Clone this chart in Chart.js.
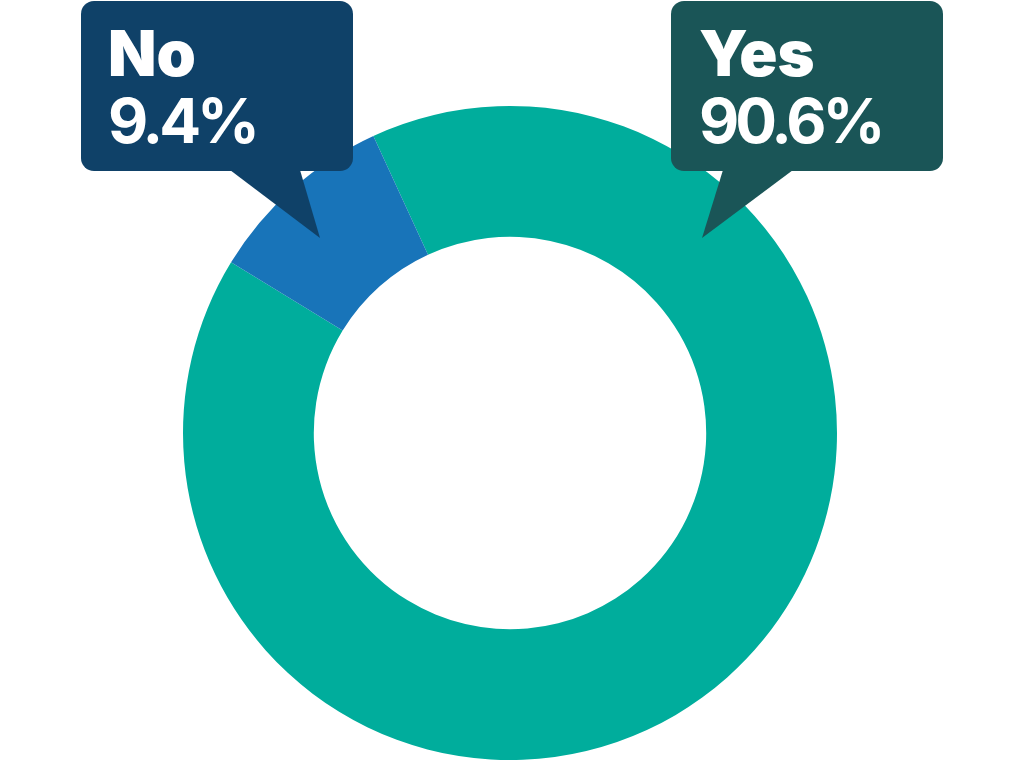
<!DOCTYPE html>
<html>
<head>
<meta charset="utf-8">
<script src="https://cdn.jsdelivr.net/npm/chart.js@4/dist/chart.umd.min.js"></script>
<style>
  html, body { margin: 0; padding: 0; background: #fff; }
  #wrap { width: 1024px; height: 768px; }
</style>
</head>
<body>
<div id="wrap"><canvas id="pieChart" width="1024" height="768"></canvas></div>
<script>
// ---- data ----
const labels = ['Yes', 'No'];
const values = [90.6, 9.4];
const sliceColors = ['#00ad9c', '#1874b9'];
const boxColors = ['#1a5557', '#0f4168'];

// ---- callout boxes (drawn on top of the doughnut) ----
const callouts = {
    Yes: { x: 671, y: 1, w: 272, h: 170, base: [723, 793], tip: [702, 238], tx: 699 },
    No:  { x: 81,  y: 1, w: 272, h: 170, base: [230, 300], tip: [320, 238], tx: 108 },
};

const calloutPlugin = {
    id: 'callouts',
    afterDraw(chart) {
        const ctx = chart.ctx;
        labels.forEach((lab, i) => {
            const c = callouts[lab];
            if (!c) return;
            ctx.save();
            ctx.fillStyle = boxColors[i];
            ctx.beginPath();
            ctx.roundRect(c.x, c.y, c.w, c.h, 13);
            ctx.fill();
            ctx.beginPath();
            ctx.moveTo(c.base[0], c.y + c.h - 1);
            ctx.lineTo(c.base[1], c.y + c.h - 1);
            ctx.lineTo(c.tip[0], c.tip[1]);
            ctx.closePath();
            ctx.fill();
            ctx.fillStyle = '#fff';
            ctx.textBaseline = 'alphabetic';
            ctx.textAlign = 'left';
            ctx.font = '900 63px Inter, "Open Sans", sans-serif';
            ctx.letterSpacing = '0px';
            ctx.fillText(lab, c.tx, 76);
            ctx.font = '700 62px Inter, "Open Sans", sans-serif';
            ctx.letterSpacing = '-4px';
            ctx.fillText(values[i].toFixed(1) + '%', c.tx, 143);
            ctx.restore();
        });
    }
};

new Chart(document.getElementById('pieChart'), {
    type: 'doughnut',
    data: {
        labels,
        datasets: [{
            data: values,
            backgroundColor: sliceColors,
            borderWidth: 0,
        }]
    },
    options: {
        responsive: false,
        animation: false,
        devicePixelRatio: 1,
        rotation: -24.7,
        cutout: '60%',
        layout: { padding: { top: 106, bottom: 8, left: 0, right: 4 } },
        plugins: { legend: { display: false }, tooltip: { enabled: false } }
    },
    plugins: [calloutPlugin]
});
</script>
</body>
</html>
